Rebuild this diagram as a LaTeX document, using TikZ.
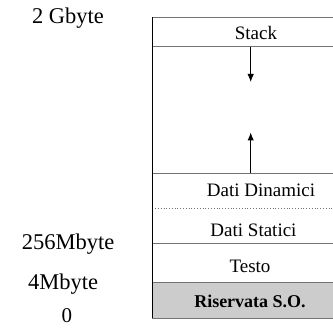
\documentclass[tikz,border=0pt]{standalone}
\usepackage{fontspec}
\setmainfont{Liberation Serif}
\usetikzlibrary{arrows.meta}
\begin{document}
\begin{tikzpicture}[x=1pt,y=-1pt,
  sep/.style={draw=black!55,line width=1.3pt},
  dotsep/.style={draw=black!55,line width=0.8pt,dotted},
  seglabel/.style={font=\fontsize{19}{22}\selectfont,inner sep=0pt},
  addrlabel/.style={font=\fontsize{22.5}{26}\selectfont,inner sep=0pt},
  growarrow/.style={draw=black,line width=1pt,-{Latex[length=8pt,width=6.5pt]}}]
\useasboundingbox (0,0) rectangle (333,329);
% reserved region fill
\fill[black!20] (152.3,282.7) rectangle (333,318.3);
% separators
\draw[sep] (152.3,17.3) -- (333,17.3);
\draw[sep] (152.3,46.7) -- (333,46.7);
\draw[sep] (152.3,173.3) -- (333,173.3);
\draw[dotsep] (152.3,208.3) -- (333,208.3);
\draw[sep] (152.3,243.3) -- (333,243.3);
\draw[sep] (152.3,282.7) -- (333,282.7);
\draw[sep] (152.3,318.3) -- (333,318.3);
% left border
\draw[black,line width=1pt] (152.3,17.3) -- (152.3,318.3);
% segment labels
\node[seglabel] (stack) at (256,33) {Stack};
\node[seglabel] (dyn) at (261,190.5) {Dati Dinamici};
\node[seglabel] (stat) at (253.5,230.5) {Dati Statici};
\node[seglabel] (text) at (250,266) {Testo};
\node[seglabel,font=\fontsize{18}{22}\selectfont\bfseries] (os) at (250,301) {Riservata S.O.};
% address labels
\node[addrlabel] (a2g) at (68,18) {2 Gbyte};
\node[addrlabel] (a256) at (68,244) {256Mbyte};
\node[addrlabel] (a4m) at (63,284.5) {4Mbyte};
\node[addrlabel,font=\fontsize{21}{24}\selectfont] (a0) at (67,316) {0};
% growth arrows
\coordinate (stacktop) at (250.7,46.7);
\coordinate (stacktip) at (250.7,82);
\coordinate (heapbase) at (250.7,173.3);
\coordinate (heaptip) at (250.7,132.5);
\draw[growarrow] (stacktop) -- (stacktip);
\draw[growarrow] (heapbase) -- (heaptip);
\end{tikzpicture}
\end{document}
